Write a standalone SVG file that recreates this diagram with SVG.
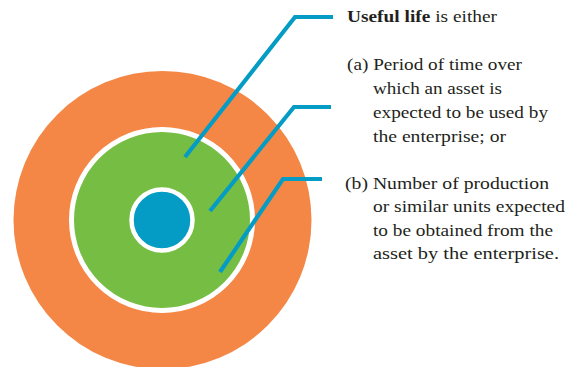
<svg xmlns="http://www.w3.org/2000/svg" width="574" height="367" viewBox="0 0 574 367">
<style>
.t{font-family:"Liberation Serif","Times New Roman",serif;font-size:16.5px;fill:#231f20}
.b{font-weight:bold}
.lead{fill:none;stroke:#049cc4;stroke-width:4.2;stroke-linejoin:miter}
</style>
<rect width="574" height="367" fill="#ffffff"/>
<g id="outer"><circle cx="162.5" cy="220" r="149" fill="#f58746"/></g>
<g id="middle"><circle cx="162" cy="220" r="90.5" fill="#76be43" stroke="#ffffff" stroke-width="5"/></g>
<g id="inner"><circle cx="162" cy="220" r="30.5" fill="#049cc4" stroke="#ffffff" stroke-width="4.5"/></g>
<g id="connectors">
<polyline class="lead" points="185,157 295,17 333,17"/>
<polyline class="lead" points="210,211 294,107 331,107"/>
<polyline class="lead" points="220,272 283,179 322,179"/>
</g>
<g id="text">
<text class="t" x="347" y="22" textLength="150" lengthAdjust="spacingAndGlyphs"><tspan class="b">Useful life</tspan> is either</text>
<text class="t" x="347" y="70" textLength="175" lengthAdjust="spacingAndGlyphs">(a) Period of time over</text>
<text class="t" x="373" y="93.5" textLength="129" lengthAdjust="spacingAndGlyphs">which an asset is</text>
<text class="t" x="373" y="117.5" textLength="175" lengthAdjust="spacingAndGlyphs">expected to be used by</text>
<text class="t" x="373" y="141.5" textLength="133" lengthAdjust="spacingAndGlyphs">the enterprise; or</text>
<text class="t" x="345" y="188.5" textLength="204" lengthAdjust="spacingAndGlyphs">(b) Number of production</text>
<text class="t" x="373" y="212" textLength="192" lengthAdjust="spacingAndGlyphs">or similar units expected</text>
<text class="t" x="373" y="235.5" textLength="180" lengthAdjust="spacingAndGlyphs">to be obtained from the</text>
<text class="t" x="373" y="259" textLength="186" lengthAdjust="spacingAndGlyphs">asset by the enterprise.</text>
</g>
</svg>
